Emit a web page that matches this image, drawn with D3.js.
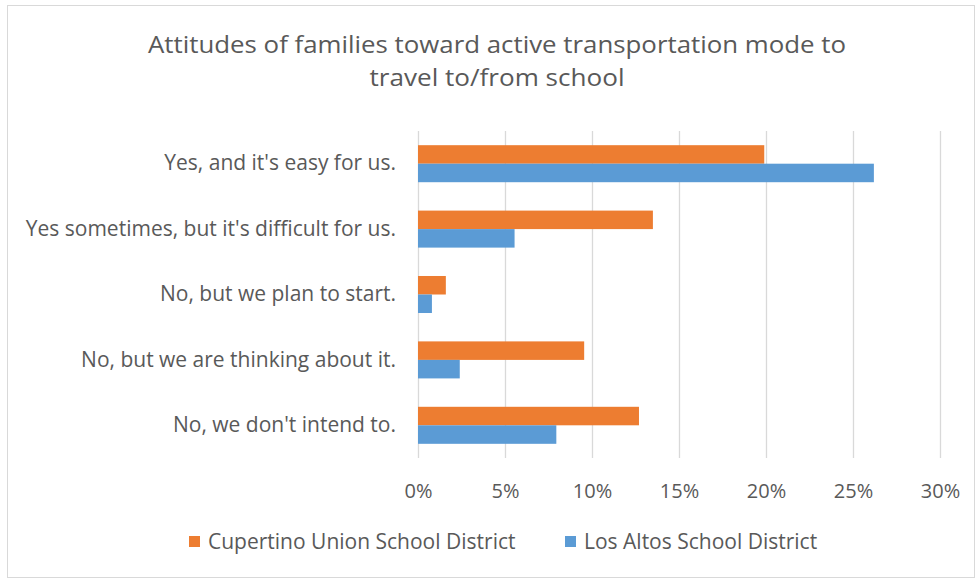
<!DOCTYPE html>
<html><head><meta charset="utf-8">
<script src="https://cdn.jsdelivr.net/npm/d3@7"></script>
<style>body{margin:0;background:#fff;} svg{display:block;font-family:"Open Sans", sans-serif;}</style>
</head><body>
<script>
const categories = ["Yes, and it's easy for us.", "Yes sometimes, but it's difficult for us.", "No, but we plan to start.", "No, but we are thinking about it.", "No, we don't intend to."];
const seriesNames = ["Cupertino Union School District", "Los Altos School District"];
const cupertino = [0.199, 0.135, 0.016, 0.0955, 0.127];
const losAltos = [0.262, 0.0555, 0.008, 0.024, 0.0795];
const xTicks = [0, 0.05, 0.10, 0.15, 0.20, 0.25, 0.30];
const colors = ["#ED7D31", "#5B9BD5"];

const W = 975, H = 578;
const svg = d3.select("body").append("svg").attr("width", W).attr("height", H);
svg.append("rect").attr("x", 7.5).attr("y", 5.5).attr("width", W - 8).attr("height", H - 6)
  .attr("fill", "#fff").attr("stroke", "#d9d9d9");

const txt = "#595959";
const title = svg.append("text").attr("text-anchor", "middle").attr("fill", txt).attr("font-size", 24);
title.append("tspan").attr("x", 497).attr("y", 53).attr("textLength", 698).attr("lengthAdjust", "spacingAndGlyphs")
  .text("Attitudes of families toward active transportation mode to");
title.append("tspan").attr("x", 497).attr("y", 86).attr("textLength", 255).attr("lengthAdjust", "spacingAndGlyphs")
  .text("travel to/from school");

const x = d3.scaleLinear().domain([0, 0.3]).range([418, 940]);
const y = d3.scaleBand().domain(categories).range([131, 458]);

// gridlines
const grid = svg.append("g").attr("transform", "translate(0,458)")
  .call(d3.axisBottom(x).tickValues(xTicks).tickSize(-327).tickFormat(""));
grid.select(".domain").remove();
grid.selectAll("line").attr("stroke", "#d9d9d9").attr("stroke-width", 1.3);

// x tick labels
const xa = svg.append("g").attr("transform", "translate(0,458)")
  .call(d3.axisBottom(x).tickValues(xTicks).tickSize(0).tickPadding(26).tickFormat(d3.format(".0%")));
xa.select(".domain").remove();
xa.selectAll("text").attr("fill", txt).attr("font-size", 20).attr("font-family", "'Open Sans', sans-serif");

// y labels
const ya = svg.append("g").attr("transform", "translate(418,0)")
  .call(d3.axisLeft(y).tickSize(0).tickPadding(22));
ya.select(".domain").remove();
ya.selectAll("text").attr("fill", txt).attr("font-size", 21).attr("font-family", "'Open Sans', sans-serif");

const data = [cupertino, losAltos];
const barH = y.bandwidth() * 0.283;
data.forEach((vals, si) => {
  svg.append("g").selectAll("rect").data(vals).join("rect")
    .attr("x", x(0))
    .attr("y", (d, i) => y(categories[i]) + y.bandwidth() / 2 - barH + si * barH)
    .attr("width", d => x(d) - x(0))
    .attr("height", barH)
    .attr("fill", colors[si]);
});

// legend
const legendX = [189, 565];
seriesNames.forEach((n, i) => {
  const g = svg.append("g").attr("transform", `translate(${legendX[i]},536)`);
  g.append("rect").attr("width", 11).attr("height", 11).attr("fill", colors[i]);
  g.append("text").attr("x", 19).attr("y", 13).attr("fill", txt).attr("font-size", 21).text(n);
});
</script>
</body></html>
